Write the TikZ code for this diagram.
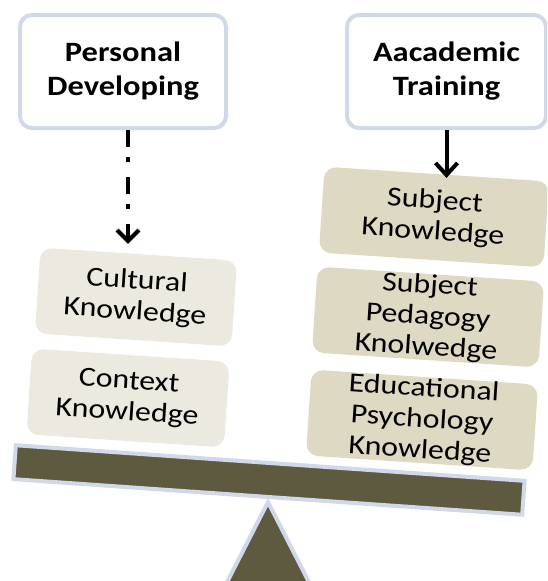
\documentclass[tikz,border=0pt]{standalone}
\usepackage{fontspec}
\setmainfont{Carlito}[FakeStretch=1.16]
\usetikzlibrary{arrows.meta}

\definecolor{framegray}{RGB}{208,216,234}
\definecolor{paleknow}{RGB}{236,234,224}
\definecolor{tanknow}{RGB}{221,217,195}
\definecolor{beamolive}{RGB}{94,90,64}

\tikzset{
  source/.style={draw=framegray, line width=4pt, fill=white, rounded corners=12pt,
    minimum width=206pt, minimum height=113pt, align=center, inner sep=0pt,
    font=\bfseries\fontsize{28}{34}\selectfont},
  knowledge/.style={rounded corners=12pt, minimum height=86pt, align=center,
    inner sep=0pt, rotate=-3.8, font=\fontsize{27.5}{31}\selectfont},
  pale/.style={knowledge, fill=paleknow},
  tan/.style={knowledge, fill=tanknow},
  beam/.style={draw=framegray, line width=4pt, fill=beamolive},
  pdlink/.style={line width=4pt, dash pattern=on 17pt off 10pt on 5pt off 15pt,
    -{Straight Barb[length=11pt,width=22pt]}},
  atlink/.style={line width=4pt, -{Straight Barb[length=12pt,width=22pt]}}
}

\begin{document}
\begin{tikzpicture}[x=1pt,y=-1pt]
\useasboundingbox (0,0) rectangle (547,581);
\clip (0,0) rectangle (547,581);

% the two sources
\node[source] (pd) at (123,71.5) {Personal\\Developing};
\node[source, minimum width=199pt] (at) at (446.5,71.5) {Aacademic\\Training};

% left pan
\node[pale, minimum width=197pt] (cult) at (136,297) {Cultural\\Knowledge};
\node[pale, minimum width=198pt] (ctx) at (128,398) {Context\\Knowledge};

% right pan
\node[tan, minimum width=225pt] (subj) at (434,217) {Subject\\Knowledge};
\node[tan, minimum width=227pt] (ped) at (428,317) {Subject\\Pedagogy\\Knolwedge};
\node[tan, minimum width=227pt] (edu) at (422,420) {Educational\\Psychology\\Knowledge};

% pivot and beam
\draw[beam] (268,502) -- (200,635) -- (336,635) -- cycle;
\node[beam, minimum width=510pt, minimum height=34pt, rotate=-4] (bar) at (269,480) {};

\draw[pdlink, shorten >=10pt] ([xshift=5pt]pd.south) -- ([xshift=5pt]pd.south |- cult.north);
\draw[atlink, shorten >=-4pt] (at.south) -- (at.south |- subj.north);
\end{tikzpicture}
\end{document}
